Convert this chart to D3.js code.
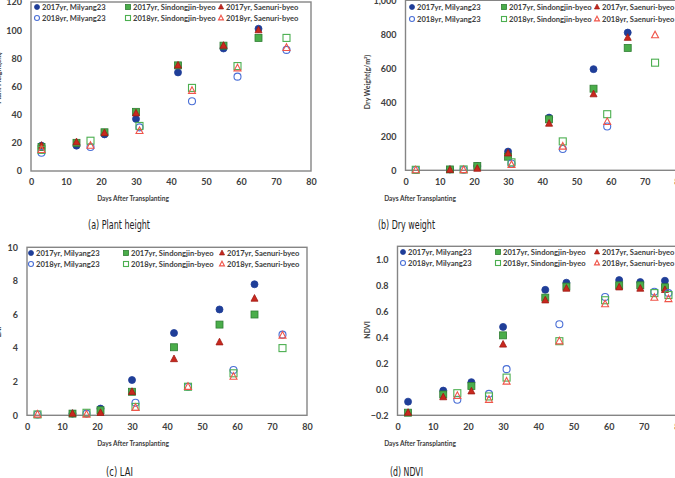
<!DOCTYPE html>
<html><head><meta charset="utf-8">
<script src="https://cdn.jsdelivr.net/npm/d3@7"></script>
<style>
html,body{margin:0;padding:0;background:#fff;}
svg{display:block;}
text{font-variant-ligatures:none;}
</style></head>
<body>
<svg id="chart" width="675" height="478"></svg>
<script>
// ---------- DATA ----------
const seriesNames = ["2017yr, Milyang23","2017yr, Sindongjin-byeo","2017yr, Saenuri-byeo",
                     "2018yr, Milyang23","2018yr, Sindongjin-byeo","2018yr, Saenuri-byeo"];
const xTickLabels = [0,10,20,30,40,50,60,70,80];

// (a) Plant height
const phX17 = [3,13,21,30,42,55,65];
const phX18 = [3,17,31,46,59,73];
const ph17Milyang = [18,18,26,37,70,87,101];
const ph17Sindongjin = [17,20,27.5,42,75,89,94.5];
const ph17Saenuri = [18,20.5,27,41,75,89,100];
const ph18Milyang = [13,17,31,49.5,67,86];
const ph18Sindongjin = [15,21.5,32,59,74.5,94.5];
const ph18Saenuri = [15,18,28.5,57,73,87.5];
const phYTicks = [0,20,40,60,80,100,120];

// (b) Dry weight
const dwX17 = [13,21,30,42,55,65];
const dwX18 = [3,17,31,46,59,73];
const dw17Milyang = [5,25,110,310,595,810];
const dw17Sindongjin = [5,25,80,300,480,720];
const dw17Saenuri = [3,10,100,275,448,780];
const dw18Milyang = [2,3,40,125,258,null];
const dw18Sindongjin = [3,5,47,170,330,633];
const dw18Saenuri = [1,2,32,140,285,795];
const dwYTicks = [0,200,400,600,800,1000];

// (c) LAI
const laiX17 = [13,21,30,42,55,65];
const laiX18 = [3,17,31,46,59,73];
const lai17Milyang = [0.1,0.4,2.1,4.9,6.3,7.8];
const lai17Sindongjin = [0.1,0.3,1.4,4.05,5.4,6.0];
const lai17Saenuri = [0.1,0.15,1.4,3.35,4.35,6.95];
const lai18Milyang = [0.05,0.1,0.75,1.7,2.7,4.8];
const lai18Sindongjin = [0.05,0.15,0.5,1.7,2.5,4.0];
const lai18Saenuri = [0.05,0.05,0.45,1.7,2.3,4.75];
const laiYTicks = [0,2,4,6,8,10];

// (d) NDVI
const ndX17 = [3,13,21,30,42,48,63,69,76];
const ndX18 = [17,26,31,46,59,73,77];
const nd17Milyang = [-0.095,-0.01,0.055,0.48,0.765,0.82,0.84,0.825,0.835];
const nd17Sindongjin = [-0.18,-0.04,0.025,0.415,0.705,0.79,0.80,0.80,0.785];
const nd17Saenuri = [-0.18,-0.06,-0.015,0.345,0.685,0.775,0.785,0.775,0.765];
const nd18Milyang = [-0.08,-0.035,0.155,0.5,0.71,0.75,0.74];
const nd18Sindongjin = [-0.03,-0.055,0.09,0.37,0.685,0.74,0.725];
const nd18Saenuri = [-0.05,-0.08,0.06,0.37,0.655,0.705,0.695];
const ndYTicks = [-0.2,0,0.2,0.4,0.6,0.8,1.0];

// ---------- STYLES ----------
const styles = [
  {shape:"circle",   fill:"#1f3e98", stroke:"#1f3e98"},
  {shape:"square",   fill:"#4aad4a", stroke:"#2f7d32"},
  {shape:"triangle", fill:"#c9281e", stroke:"#9e1b14"},
  {shape:"circle",   fill:"none",    stroke:"#4a6fd6"},
  {shape:"square",   fill:"none",    stroke:"#4caf50"},
  {shape:"triangle", fill:"none",    stroke:"#f0554a"}
];

function build(x17, x18, arrs){
  return arrs.map((vals,i)=>{
    const xs = i<3 ? x17 : x18;
    return vals.map((v,j)=>({x:xs[j], y:v})).filter(d=>d.y!==null);
  });
}

const panels = [
  {series: build(phX17, phX18, [ph17Milyang,ph17Sindongjin,ph17Saenuri,ph18Milyang,ph18Sindongjin,ph18Saenuri]),
   xr:[31,311], yr:[171,2], yDom:[0,120], yTicks:phYTicks, fmt:d3.format("d"),
   legX:[37,128,221], legY:[7,18], xTitle:[133,199], cap:["(a) Plant height",88,229,62],
   yTitle:["Plant Height(cm)",-1,78]},
  {series: build(dwX17, dwX18, [dw17Milyang,dw17Sindongjin,dw17Saenuri,dw18Milyang,dw18Sindongjin,dw18Saenuri]),
   xr:[405.5,679], yr:[170.3,0.3], yDom:[0,1000], yTicks:dwYTicks, fmt:d3.format(",d"),
   legX:[412,504,597], legY:[7,19], xTitle:[420,199], cap:["(b) Dry weight",378,229,57],
   yTitle:["Dry Weight(g/m²)",368,82]},
  {series: build(laiX17, laiX18, [lai17Milyang,lai17Sindongjin,lai17Saenuri,lai18Milyang,lai18Sindongjin,lai18Saenuri]),
   xr:[27,307], yr:[415.3,247.3], yDom:[0,10], yTicks:laiYTicks, fmt:d3.format("d"),
   legX:[31,126,222], legY:[253,264], xTitle:[133,444], cap:["(c) LAI",106,476,27],
   yTitle:["LAI",-1,332]},
  {series: build(ndX17, ndX18, [nd17Milyang,nd17Sindongjin,nd17Saenuri,nd18Milyang,nd18Sindongjin,nd18Saenuri]),
   xr:[397.5,679], yr:[415.3,246.3], yDom:[-0.2,1.1], yTicks:ndYTicks, fmt:d3.format(".1f"),
   legX:[403,498,597], legY:[252,263], xTitle:[420,444], cap:["(d) NDVI",390,476,33],
   yTitle:["NDVI",368,330]}
];

const svg = d3.select("#chart");
const textCol = "#404040";
const font = "Lato, 'Open Sans', sans-serif";

function drawMarker(g, st, cx, cy, s){
  let m;
  if(st.shape==="circle"){
    m = g.append("circle").attr("cx",cx).attr("cy",cy).attr("r",s/2);
  } else if(st.shape==="square"){
    m = g.append("rect").attr("x",cx-s/2).attr("y",cy-s/2).attr("width",s).attr("height",s);
  } else {
    const h = s*0.95;
    m = g.append("path").attr("d",`M${cx},${cy-h*0.6}L${cx+s/2},${cy+h*0.4}L${cx-s/2},${cy+h*0.4}Z`);
  }
  m.attr("fill",st.fill).attr("stroke",st.stroke).attr("stroke-width",st.fill==="none"?1.1:0.8);
  return m;
}

panels.forEach(p=>{
  const x = d3.scaleLinear().domain([0,80]).range(p.xr);
  const y = d3.scaleLinear().domain(p.yDom).range(p.yr);
  const g = svg.append("g");

  // plot box
  g.append("rect").attr("x",x(0)).attr("y",y(p.yDom[1])).attr("width",x(80)-x(0))
   .attr("height",y(p.yDom[0])-y(p.yDom[1])).attr("fill","none").attr("stroke","#858585").attr("stroke-width",1.4);

  // x axis tick labels
  const xAx = d3.axisBottom(x).tickValues(xTickLabels).tickSize(0).tickPadding(8);
  const xa = g.append("g").attr("transform",`translate(0,${y(p.yDom[0])})`).call(xAx);
  xa.select(".domain").remove();
  xa.selectAll("text").attr("font-family",font).attr("font-weight","bold").attr("font-size",9).attr("fill",textCol);

  // y axis tick labels
  const yAx = d3.axisLeft(y).tickValues(p.yTicks).tickFormat(p.fmt).tickSize(0).tickPadding(9);
  const ya = g.append("g").attr("transform",`translate(${x(0)},0)`).call(yAx);
  ya.select(".domain").remove();
  ya.selectAll("text").attr("font-family",font).attr("font-weight","bold").attr("font-size",9).attr("fill",textCol);

  // markers
  p.series.forEach((ser,i)=>{
    const sg = g.append("g");
    ser.forEach(d=>drawMarker(sg, styles[i], x(d.x), y(d.y), 7));
  });

  // legend
  seriesNames.forEach((name,i)=>{
    const col = i%3, row = Math.floor(i/3);
    const lx = p.legX[col], ly = p.legY[row];
    drawMarker(g, styles[i], lx, ly, 5);
    g.append("text").attr("x",lx+5).attr("y",ly).attr("dy","0.35em")
     .attr("font-family",font).attr("font-weight","bold").attr("font-size",7.6).attr("fill",textCol).text(name);
  });

  // x title
  g.append("text").attr("x",p.xTitle[0]).attr("y",p.xTitle[1]).attr("dy","0.35em").attr("text-anchor","middle")
   .attr("font-family",font).attr("font-weight","bold").attr("font-size",6.6).attr("fill",textCol)
   .text("Days After Transplanting");

  // y title
  g.append("text").attr("transform",`translate(${p.yTitle[1]},${p.yTitle[2]}) rotate(-90)`)
   .attr("dy","0.35em").attr("text-anchor","middle")
   .attr("font-family",font).attr("font-weight","bold").attr("font-size",7).attr("fill",textCol)
   .text(p.yTitle[0]);

  // caption
  g.append("text").attr("x",p.cap[1]).attr("y",p.cap[2])
   .attr("textLength",p.cap[3]).attr("lengthAdjust","spacingAndGlyphs")
   .attr("font-family","'DejaVu Sans', sans-serif").attr("font-size",12).attr("fill","#222")
   .text(p.cap[0]);
});
</script>
</body></html>
